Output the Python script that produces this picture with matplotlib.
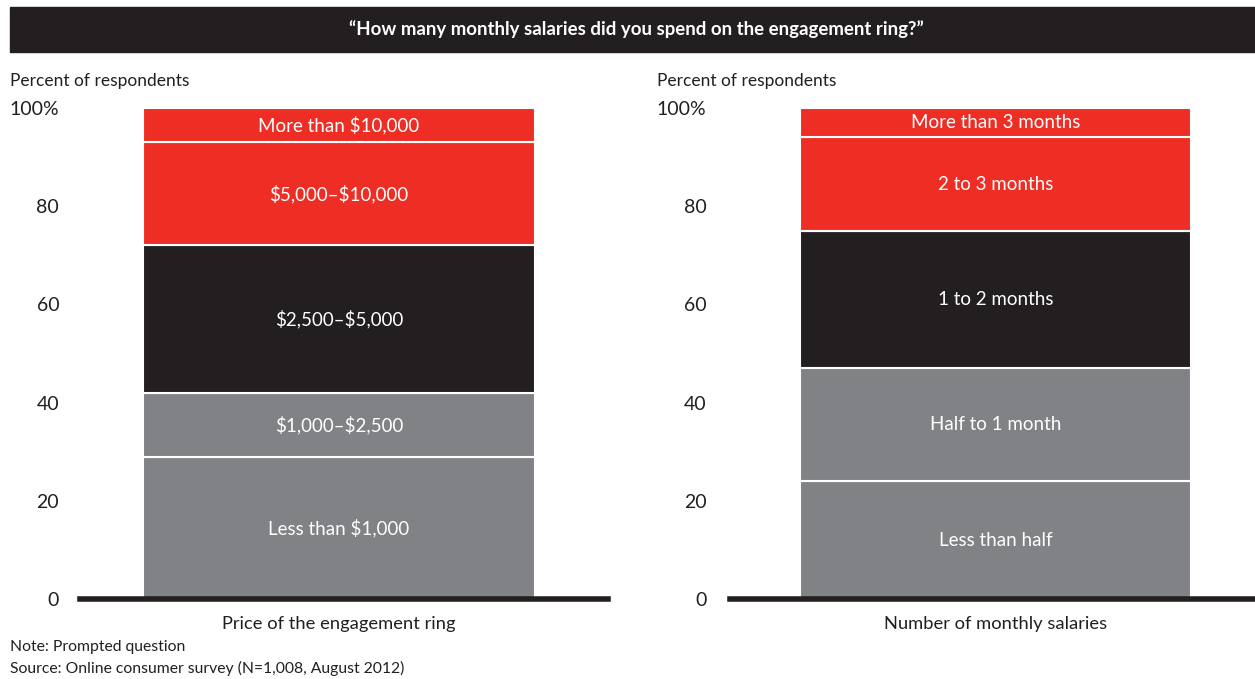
import matplotlib.pyplot as plt
from matplotlib.patches import Rectangle

plt.rcParams['font.family'] = ['Lato', 'DejaVu Sans']

# data (percent of respondents, bottom to top)
price_labels = ["Less than $1,000", "$1,000–$2,500", "$2,500–$5,000",
                "$5,000–$10,000", "More than $10,000"]
price_values = [29, 13, 30, 21, 7]

salary_labels = ["Less than half", "Half to 1 month", "1 to 2 months",
                 "2 to 3 months", "More than 3 months"]
salary_values = [24, 23, 28, 19, 6]

seg_colors = ["#808285", "#808285", "#231f20", "#ee2e24", "#ee2e24"]
y_ticks = [0, 20, 40, 60, 80, 100]
y_ticklabels = ["0", "20", "40", "60", "80", "100%"]

W, H = 1255, 679
fig = plt.figure(figsize=(W / 100, H / 100), dpi=100)

# title band
fig.patches.append(Rectangle((10 / W, 1 - 52 / H), 1 - 10 / W, 45 / H,
                             transform=fig.transFigure, color="#231f20", zorder=0))
fig.text(636 / W, 1 - 29 / H,
         "\u201cHow many monthly salaries did you spend on the engagement ring?\u201d",
         color="white", fontsize=13.4, fontweight="bold", ha="center", va="center")


def draw_panel(left_px, width_px, bar_center, bar_width, labels, values, xlabel,
               label_pad, ylab_x_px):
    ax = fig.add_axes([left_px / W, 1 - 599 / H, width_px / W, (599 - 108) / H])
    bottom = 0
    for lab, val, col in zip(labels, values, seg_colors):
        ax.bar(bar_center, val, bottom=bottom, width=bar_width, color=col,
               edgecolor="white", linewidth=1.5, zorder=2)
        ax.text(bar_center, bottom + val / 2, lab, color="white", fontsize=13.5,
                ha="center", va="center", zorder=3, parse_math=False)
        bottom += val
    ax.set_xlim(0, 1)
    ax.set_ylim(0, 100)
    ax.axhline(0, color="#231f20", linewidth=4, zorder=4, clip_on=False)
    for s in ax.spines.values():
        s.set_visible(False)
    ax.set_xticks([])
    ax.set_yticks(y_ticks)
    ax.set_yticklabels(y_ticklabels, fontsize=14, color="#231f20")
    ax.tick_params(axis="y", length=0, pad=label_pad)
    ax.text(bar_center, -3.5, xlabel, fontsize=13.2, color="#231f20",
            ha="center", va="top")
    fig.text(ylab_x_px / W, 1 - 81 / H, "Percent of respondents", fontsize=12.5,
             color="#231f20", ha="left", va="center")
    return ax


draw_panel(80, 528, 0.4905, 0.742, price_labels, price_values,
           "Price of the engagement ring", 15, 10)
draw_panel(730, 525, 0.5057, 0.745, salary_labels, salary_values,
           "Number of monthly salaries", 17, 657)

fig.text(10 / W, 1 - 647 / H, "Note: Prompted question", fontsize=11.3,
         color="#231f20", ha="left", va="center")
fig.text(10 / W, 1 - 668 / H, "Source: Online consumer survey (N=1,008, August 2012)",
         fontsize=11.3, color="#231f20", ha="left", va="center")

fig.savefig("out.png", dpi=100)
